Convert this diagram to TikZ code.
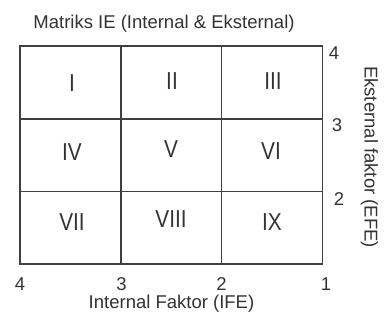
\documentclass[tikz,border=0pt]{standalone}
\usepackage{fontspec}
\setmainfont{Liberation Sans}
\newfontfamily\numfont[FakeStretch=0.85]{Liberation Sans}
\definecolor{txt}{HTML}{333333}
\definecolor{ln}{HTML}{404040}
\begin{document}
\begin{tikzpicture}[x=1pt,y=-1pt,
  gridline/.style={draw=ln,line width=1.3pt},
  cellnum/.style={inner sep=0pt,text=txt,font=\numfont\fontsize{24.5}{24.5}\selectfont},
  lbl/.style={inner sep=0pt,text=txt,font=\fontsize{18.5}{18.5}\selectfont},
  tick/.style={lbl,anchor=base}]
\useasboundingbox[fill=white] (0,0) rectangle (384,322);
% grid
\coordinate (tl) at (20,46);
\coordinate (br) at (322.5,264);
\draw[gridline] (tl) rectangle (br);
\draw[gridline] (121,46) -- (121,264) (221.5,46) -- (221.5,264);
\draw[gridline] (20,119) -- (322.5,119) (20,191.5) -- (322.5,191.5);
% cell labels
\node[cellnum] (c1) at (72,83) {I};
\node[cellnum] (c2) at (172,81) {II};
\node[cellnum] (c3) at (273,81) {III};
\node[cellnum] (c4) at (72,152) {IV};
\node[cellnum] (c5) at (171,149) {V};
\node[cellnum] (c6) at (271,151) {VI};
\node[cellnum] (c7) at (72,222) {VII};
\node[cellnum] (c8) at (171,219.5) {VIII};
\node[cellnum] (c9) at (272,222) {IX};
% title
\node[lbl,anchor=base] (title) at (164,28.3) {Matriks IE (Internal \& Eksternal)};
% bottom ticks
\node[tick] (b4) at (20,290.5) {4};
\node[tick] (b3) at (121.5,290.5) {3};
\node[tick] (b2) at (221.5,290.5) {2};
\node[tick] (b1) at (326,290.5) {1};
\node[lbl,anchor=base] (xlab) at (171.5,308) {Internal Faktor (IFE)};
% right ticks
\node[tick] (r4) at (334,59.3) {4};
\node[tick] (r3) at (337,131.7) {3};
\node[tick] (r2) at (339,205) {2};
\node[lbl,rotate=-90] (ylab) at (369.5,157) {Eksternal faktor (EFE)};
\end{tikzpicture}
\end{document}
